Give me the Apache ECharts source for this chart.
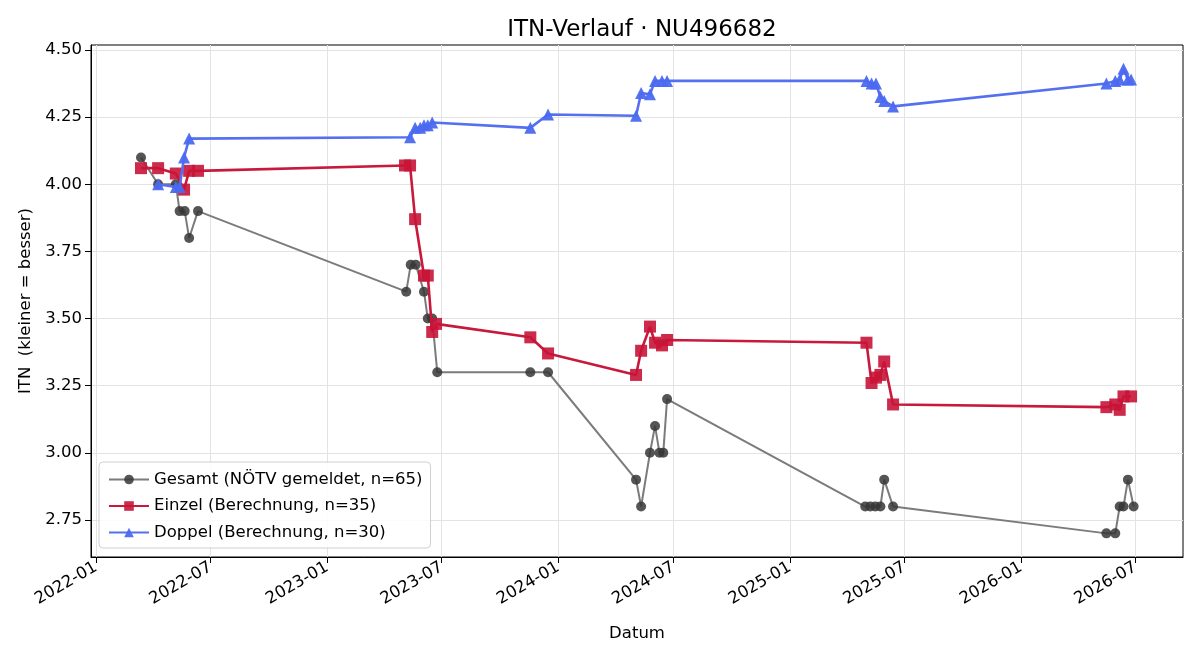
<!DOCTYPE html>
<html>
<head>
    <meta charset="UTF-8">
    <title>ITN-Verlauf</title>
    <script src="https://cdn.jsdelivr.net/npm/echarts@6/dist/echarts.min.js"></script>
    <style>
        html, body { margin: 0; padding: 0; background: #fff; }
        #chart { width: 1200px; height: 660px; }
    </style>
</head>
<body>
<div id="chart"></div>
<script>
    // Gesamt (NÖTV gemeldet)
    var gesamtDates = ['2022-03-13', '2022-04-09', '2022-05-07', '2022-05-13', '2022-05-21', '2022-05-28', '2022-06-11',
        '2023-05-06', '2023-05-13', '2023-05-21', '2023-06-03', '2023-06-09', '2023-06-16', '2023-06-24',
        '2023-11-18', '2023-12-16',
        '2024-05-03', '2024-05-11', '2024-05-25', '2024-06-02', '2024-06-09', '2024-06-15', '2024-06-21',
        '2025-04-30', '2025-05-08', '2025-05-16', '2025-05-24', '2025-05-30', '2025-06-13',
        '2026-05-16', '2026-05-30', '2026-06-06', '2026-06-12', '2026-06-19', '2026-06-28'];
    var gesamtValues = [4.10, 4.00, 4.00, 3.90, 3.90, 3.80, 3.90,
        3.60, 3.70, 3.70, 3.60, 3.50, 3.50, 3.30,
        3.30, 3.30,
        2.90, 2.80, 3.00, 3.10, 3.00, 3.00, 3.20,
        2.80, 2.80, 2.80, 2.80, 2.90, 2.80,
        2.70, 2.70, 2.80, 2.80, 2.90, 2.80];

    // Einzel (Berechnung)
    var einzelDates = ['2022-03-13', '2022-04-09', '2022-05-07', '2022-05-20', '2022-05-28', '2022-06-11',
        '2023-05-04', '2023-05-12', '2023-05-20', '2023-06-03', '2023-06-09', '2023-06-16', '2023-06-22',
        '2023-11-18', '2023-12-16',
        '2024-05-03', '2024-05-11', '2024-05-25', '2024-06-02', '2024-06-13', '2024-06-21',
        '2025-05-02', '2025-05-10', '2025-05-17', '2025-05-24', '2025-05-30', '2025-06-13',
        '2026-05-16', '2026-05-30', '2026-06-06', '2026-06-12', '2026-06-24'];
    var einzelValues = [4.06, 4.06, 4.04, 3.98, 4.05, 4.05,
        4.07, 4.07, 3.87, 3.66, 3.66, 3.45, 3.48,
        3.43, 3.37,
        3.29, 3.38, 3.47, 3.41, 3.40, 3.42,
        3.41, 3.26, 3.28, 3.29, 3.34, 3.18,
        3.17, 3.18, 3.16, 3.21, 3.21];

    // Doppel (Berechnung)
    var doppelDates = ['2022-04-09', '2022-05-07', '2022-05-13', '2022-05-20', '2022-05-28',
        '2023-05-12', '2023-05-20', '2023-05-28', '2023-06-03', '2023-06-09', '2023-06-16',
        '2023-11-18', '2023-12-16',
        '2024-05-03', '2024-05-11', '2024-05-25', '2024-06-02', '2024-06-13', '2024-06-21',
        '2025-05-02', '2025-05-10', '2025-05-17', '2025-05-24', '2025-05-30', '2025-06-13',
        '2026-05-16', '2026-05-30', '2026-06-06', '2026-06-12', '2026-06-19', '2026-06-24'];
    var doppelValues = [4.00, 3.99, 3.99, 4.10, 4.17,
        4.175, 4.21, 4.21, 4.22, 4.22, 4.23,
        4.21, 4.26,
        4.255, 4.34, 4.335, 4.385, 4.385, 4.385,
        4.385, 4.375, 4.375, 4.325, 4.31, 4.29,
        4.375, 4.385, 4.39, 4.43, 4.39, 4.39];

    var xTickLabels = ['2022-01', '2022-07', '2023-01', '2023-07', '2024-01', '2024-07', '2025-01', '2025-07', '2026-01', '2026-07'];
    var yTicks = [2.75, 3.00, 3.25, 3.50, 3.75, 4.00, 4.25, 4.50];

    function toTime(s) {
        var p = s.split('-');
        return Date.UTC(+p[0], +p[1] - 1, p[2] ? +p[2] : 1);
    }

    function pairs(dates, values) {
        var out = [];
        for (var i = 0; i < dates.length; i++) {
            out.push([toTime(dates[i]), values[i]]);
        }
        return out;
    }

    var xTickValues = xTickLabels.map(toTime);
    var font = 'DejaVu Sans';
    var fs = 16.5;

    var myChart = echarts.init(document.getElementById('chart'), null, {renderer: 'canvas'});
    var option = {
        animation: false,
        backgroundColor: '#fff',
        textStyle: {fontFamily: font},
        title: {
            text: 'ITN-Verlauf · NU496682',
            left: 637,
            top: 14,
            textAlign: 'center',
            textStyle: {fontFamily: font, fontSize: 23, fontWeight: 'normal', color: '#000'}
        },
        grid: {
            left: 91, right: 17, top: 45, bottom: 103,
            show: true, borderColor: '#000', borderWidth: 1, backgroundColor: 'transparent'
        },
        legend: {
            orient: 'vertical',
            left: 99,
            top: 462,
            padding: [9, 8, 7, 9],
            itemGap: 9.5,
            itemWidth: 40,
            itemHeight: 12,
            backgroundColor: 'rgba(255,255,255,0.85)',
            borderColor: '#d0d0d0',
            borderWidth: 1,
            borderRadius: 4,
            textStyle: {fontFamily: font, fontSize: fs, color: '#000'},
            data: ['Gesamt (NÖTV gemeldet, n=65)', 'Einzel (Berechnung, n=35)', 'Doppel (Berechnung, n=30)']
        },
        xAxis: {
            type: 'value',
            min: toTime('2021-12-24'),
            max: toTime('2026-09-14'),
            name: 'Datum',
            nameLocation: 'middle',
            nameGap: 68,
            nameTextStyle: {fontFamily: font, fontSize: fs, color: '#000'},
            axisLine: {show: true, onZero: false, lineStyle: {color: '#000', width: 1}},
            axisTick: {show: true, inside: false, length: 6, lineStyle: {color: '#000'}, customValues: xTickValues},
            axisLabel: {
                customValues: xTickValues,
                rotate: 30,
                margin: 9,
                fontFamily: font,
                fontSize: fs,
                color: '#000',
                formatter: function (v) {
                    var i = xTickValues.indexOf(v);
                    if (i >= 0) return xTickLabels[i];
                    var d = new Date(v);
                    return d.getUTCFullYear() + '-' + ('0' + (d.getUTCMonth() + 1)).slice(-2);
                }
            },
            splitLine: {show: true, lineStyle: {color: '#e3e3e3', width: 1}}
        },
        yAxis: {
            type: 'value',
            min: 2.612,
            max: 4.5186,
            name: 'ITN  (kleiner = besser)',
            nameLocation: 'middle',
            nameGap: 56,
            nameTextStyle: {fontFamily: font, fontSize: fs, color: '#000'},
            axisLine: {show: true, onZero: false, lineStyle: {color: '#000', width: 1}},
            axisTick: {show: true, inside: false, length: 6, lineStyle: {color: '#000'}, customValues: yTicks},
            axisLabel: {
                customValues: yTicks,
                margin: 9,
                fontFamily: font,
                fontSize: fs,
                color: '#000',
                formatter: function (v) { return v.toFixed(2); }
            },
            splitLine: {show: true, lineStyle: {color: '#e3e3e3', width: 1}}
        },
        series: [
            {
                name: 'Gesamt (NÖTV gemeldet, n=65)',
                type: 'line',
                data: pairs(gesamtDates, gesamtValues),
                symbol: 'circle',
                symbolSize: 10,
                showAllSymbol: true,
                lineStyle: {color: '#7b7b7b', width: 2},
                itemStyle: {color: 'rgba(55,55,55,0.85)', borderWidth: 0},
                z: 2
            },
            {
                name: 'Einzel (Berechnung, n=35)',
                type: 'line',
                data: pairs(einzelDates, einzelValues),
                symbol: 'rect',
                symbolSize: 12,
                showAllSymbol: true,
                lineStyle: {color: '#c8193c', width: 2.6},
                itemStyle: {color: 'rgba(200,20,55,0.9)', borderWidth: 0},
                z: 3
            },
            {
                name: 'Doppel (Berechnung, n=30)',
                type: 'line',
                data: pairs(doppelDates, doppelValues),
                symbol: 'triangle',
                symbolSize: 12,
                showAllSymbol: true,
                lineStyle: {color: '#5470f0', width: 2.6},
                itemStyle: {color: 'rgba(75,105,240,0.95)', borderWidth: 0},
                z: 4
            }
        ]
    };
    myChart.setOption(option);
</script>
</body>
</html>
